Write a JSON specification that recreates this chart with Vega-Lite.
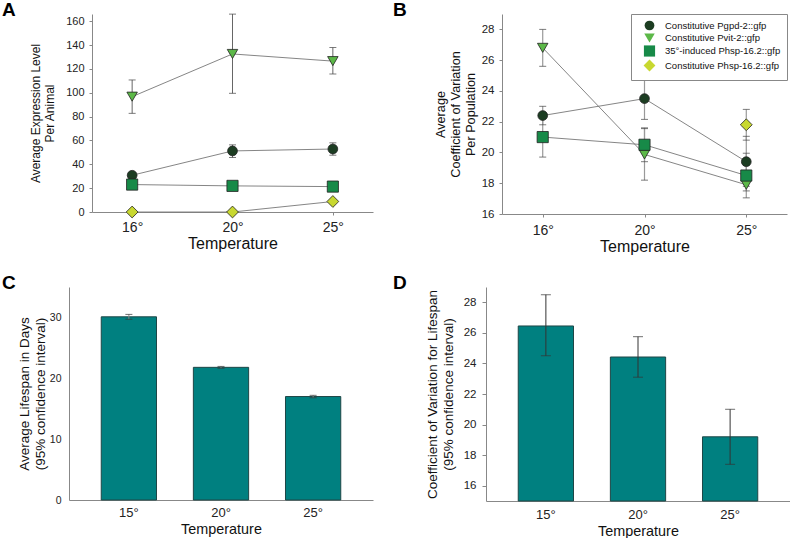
{
  "$schema": "https://vega.github.io/schema/vega-lite/v6.json",
  "padding": {"left": 2, "top": 0, "right": 0, "bottom": 0},
  "background": "white",
  "config": {
    "view": {"stroke": null},
    "font": "Liberation Sans",
    "axis": {"grid": false, "domainColor": "#888", "tickColor": "#888", "labelColor": "#222", "titleColor": "#111", "titleFontWeight": "normal", "labelFont": "Liberation Sans", "titleFont": "Liberation Sans", "labelOverlap": false},
    "title": {"anchor": "start", "frame": "group", "fontSize": 19, "fontWeight": "bold", "font": "Liberation Sans", "color": "#000", "baseline": "alphabetic", "offset": 0}
  },
  "datasets": {
    "a": [
      {"s": "Constitutive Pgpd-2::gfp", "t": "16°", "v": 30.8, "lo": 29.0, "hi": 32.6},
      {"s": "Constitutive Pgpd-2::gfp", "t": "20°", "v": 51.2, "lo": 45.7, "hi": 56.3},
      {"s": "Constitutive Pgpd-2::gfp", "t": "25°", "v": 52.8, "lo": 47.6, "hi": 58.0},
      {"s": "Constitutive Pvit-2::gfp", "t": "16°", "v": 96.7, "lo": 82.7, "hi": 110.7},
      {"s": "Constitutive Pvit-2::gfp", "t": "20°", "v": 132.5, "lo": 99.5, "hi": 165.9},
      {"s": "Constitutive Pvit-2::gfp", "t": "25°", "v": 126.5, "lo": 115.7, "hi": 137.9},
      {"s": "35°-induced Phsp-16.2::gfp", "t": "16°", "v": 23.0, "lo": 22.0, "hi": 24.0},
      {"s": "35°-induced Phsp-16.2::gfp", "t": "20°", "v": 21.9, "lo": 21.0, "hi": 22.8},
      {"s": "35°-induced Phsp-16.2::gfp", "t": "25°", "v": 21.3, "lo": 20.4, "hi": 22.2},
      {"s": "Constitutive Phsp-16.2::gfp", "t": "16°", "v": 0.0, "lo": 0.0, "hi": 0.3},
      {"s": "Constitutive Phsp-16.2::gfp", "t": "20°", "v": 0.0, "lo": 0.0, "hi": 0.3},
      {"s": "Constitutive Phsp-16.2::gfp", "t": "25°", "v": 8.8, "lo": 8.2, "hi": 9.4}
    ],
    "b": [
      {"s": "Constitutive Pgpd-2::gfp", "t": "16°", "v": 22.4, "lo": 21.8, "hi": 23.0},
      {"s": "Constitutive Pgpd-2::gfp", "t": "20°", "v": 23.5, "lo": 22.15, "hi": 24.9},
      {"s": "Constitutive Pgpd-2::gfp", "t": "25°", "v": 19.4, "lo": 17.8, "hi": 21.05},
      {"s": "Constitutive Pvit-2::gfp", "t": "16°", "v": 26.8, "lo": 25.6, "hi": 28.0},
      {"s": "Constitutive Pvit-2::gfp", "t": "20°", "v": 19.87, "lo": 18.2, "hi": 21.55},
      {"s": "Constitutive Pvit-2::gfp", "t": "25°", "v": 17.9, "lo": 17.05, "hi": 18.75},
      {"s": "35°-induced Phsp-16.2::gfp", "t": "16°", "v": 21.0, "lo": 19.7, "hi": 22.3},
      {"s": "35°-induced Phsp-16.2::gfp", "t": "20°", "v": 20.5, "lo": 19.4, "hi": 21.6},
      {"s": "35°-induced Phsp-16.2::gfp", "t": "25°", "v": 18.5, "lo": 17.5, "hi": 19.95},
      {"s": "Constitutive Phsp-16.2::gfp", "t": "25°", "v": 21.8, "lo": 20.8, "hi": 22.8}
    ],
    "c": [
      {"t": "15°", "v": 30.1, "lo": 29.7, "hi": 30.5},
      {"t": "20°", "v": 21.8, "lo": 21.65, "hi": 21.95},
      {"t": "25°", "v": 17.0, "lo": 16.8, "hi": 17.2}
    ],
    "d": [
      {"t": "15°", "v": 26.45, "lo": 24.5, "hi": 28.5},
      {"t": "20°", "v": 24.42, "lo": 23.1, "hi": 25.75},
      {"t": "25°", "v": 19.2, "lo": 17.4, "hi": 21.0}
    ]
  },
  "columns": 2,
  "bounds": "full",
  "spacing": {"row": 20, "column": 20},
  "resolve": {"scale": {"fill": "independent", "shape": "independent", "size": "independent"}, "legend": {"fill": "independent", "shape": "independent", "size": "independent"}},
  "concat": [
    {
      "width": 304, "height": 198,
      "title": {"text": "A", "dx": -67, "dy": 10},
      "data": {"name": "a"},
      "resolve": {"axis": {"y": "independent"}},
      "encoding": {
        "x": {"field": "t", "type": "ordinal", "sort": ["16°", "20°", "25°"], "scale": {"type": "point", "padding": 0.4, "range": [23, 304]},
          "axis": {"title": "Temperature", "labelAngle": 0, "labelFontSize": 14, "titleFontSize": 16, "tickSize": 3, "labelPadding": 5, "titlePadding": 1}}
      },
      "layer": [
        {"mark": {"type": "rule", "color": "#666", "strokeWidth": 1},
         "encoding": {"y": {"field": "lo", "type": "quantitative", "scale": {"domain": [0, 166], "nice": false},
           "axis": {"title": ["Average Expression Level", "Per Animal"], "offset": -23, "values": [0, 20, 40, 60, 80, 100, 120, 140, 160], "labelFontSize": 11, "titleFontSize": 12, "tickSize": 3, "labelPadding": 5, "titlePadding": 9}},
           "y2": {"field": "hi"}, "detail": {"field": "s"}}},
        {"mark": {"type": "tick", "color": "#444", "size": 7, "thickness": 1}, "encoding": {"y": {"field": "lo", "type": "quantitative", "axis": null}}},
        {"mark": {"type": "tick", "color": "#444", "size": 7, "thickness": 1}, "encoding": {"y": {"field": "hi", "type": "quantitative", "axis": null}}},
        {"mark": {"type": "line", "color": "#777", "strokeWidth": 0.9}, "encoding": {"y": {"field": "v", "type": "quantitative", "axis": null}, "detail": {"field": "s"}}},
        {"mark": {"type": "point", "filled": true, "opacity": 1, "stroke": "#222", "strokeWidth": 0.8},
         "encoding": {
           "y": {"field": "v", "type": "quantitative", "axis": null},
           "shape": {"field": "s", "type": "nominal", "scale": {"domain": ["Constitutive Pgpd-2::gfp", "Constitutive Pvit-2::gfp", "35°-induced Phsp-16.2::gfp", "Constitutive Phsp-16.2::gfp"], "range": ["circle", "triangle-down", "square", "diamond"]}, "legend": null},
           "fill": {"field": "s", "type": "nominal", "scale": {"domain": ["Constitutive Pgpd-2::gfp", "Constitutive Pvit-2::gfp", "35°-induced Phsp-16.2::gfp", "Constitutive Phsp-16.2::gfp"], "range": ["#1c3d22", "#5cb848", "#178a48", "#c8d830"]}, "legend": null},
           "size": {"field": "s", "type": "nominal", "scale": {"domain": ["Constitutive Pgpd-2::gfp", "Constitutive Pvit-2::gfp", "35°-induced Phsp-16.2::gfp", "Constitutive Phsp-16.2::gfp"], "range": [95, 140, 72, 100]}, "legend": null}
         }}
      ]
    },
    {
      "width": 301, "height": 200,
      "title": {"text": "B", "dx": -93, "dy": 10},
      "data": {"name": "b"},
      "resolve": {"axis": {"y": "independent"}},
      "encoding": {
        "x": {"field": "t", "type": "ordinal", "sort": ["16°", "20°", "25°"], "scale": {"type": "point", "padding": 0.4, "domain": ["16°", "20°", "25°"], "range": [16, 301]},
          "axis": {"title": "Temperature", "labelAngle": 0, "labelFontSize": 14, "titleFontSize": 16, "tickSize": 3, "labelPadding": 6, "titlePadding": 1}}
      },
      "layer": [
        {"mark": {"type": "rule", "color": "#999", "strokeWidth": 1.2},
         "encoding": {"y": {"field": "lo", "type": "quantitative", "scale": {"domain": [16, 29], "nice": false, "zero": false},
           "axis": {"title": ["Average", "Coefficient of Variation", "Per Population"], "offset": -16, "values": [16, 18, 20, 22, 24, 26, 28], "labelFontSize": 11.5, "titleFontSize": 12.7, "tickSize": 3, "labelPadding": 5, "titlePadding": 4}},
           "y2": {"field": "hi"}, "detail": {"field": "s"}}},
        {"mark": {"type": "tick", "color": "#444", "size": 7, "thickness": 1}, "encoding": {"y": {"field": "lo", "type": "quantitative", "axis": null}}},
        {"mark": {"type": "tick", "color": "#444", "size": 7, "thickness": 1}, "encoding": {"y": {"field": "hi", "type": "quantitative", "axis": null}}},
        {"mark": {"type": "line", "color": "#777", "strokeWidth": 0.9}, "encoding": {"y": {"field": "v", "type": "quantitative", "axis": null}, "detail": {"field": "s"}}},
        {"mark": {"type": "point", "filled": true, "opacity": 1, "stroke": "#222", "strokeWidth": 0.8},
         "encoding": {
           "y": {"field": "v", "type": "quantitative", "axis": null},
           "shape": {"field": "s", "type": "nominal", "scale": {"domain": ["Constitutive Pgpd-2::gfp", "Constitutive Pvit-2::gfp", "35°-induced Phsp-16.2::gfp", "Constitutive Phsp-16.2::gfp"], "range": ["circle", "triangle-down", "square", "diamond"]},
             "legend": {"title": null, "orient": "top-right", "offset": 0, "padding": 6, "strokeColor": "#888", "fillColor": "white", "labelFont": "Liberation Sans", "labelFontSize": 9.5, "labelColor": "#111", "symbolOffset": 6, "labelOffset": 9, "rowPadding": -2, "symbolStrokeColor": "#333", "symbolStrokeWidth": 0.8}},
           "fill": {"field": "s", "type": "nominal", "scale": {"domain": ["Constitutive Pgpd-2::gfp", "Constitutive Pvit-2::gfp", "35°-induced Phsp-16.2::gfp", "Constitutive Phsp-16.2::gfp"], "range": ["#1c3d22", "#5cb848", "#178a48", "#c8d830"]},
             "legend": {"title": null, "orient": "top-right", "offset": 0, "padding": 6, "strokeColor": "#888", "fillColor": "white", "labelFont": "Liberation Sans", "labelFontSize": 9.5, "labelColor": "#111", "symbolOffset": 6, "labelOffset": 9, "rowPadding": -2, "symbolStrokeColor": "#333", "symbolStrokeWidth": 0.8}},
           "size": {"field": "s", "type": "nominal", "scale": {"domain": ["Constitutive Pgpd-2::gfp", "Constitutive Pvit-2::gfp", "35°-induced Phsp-16.2::gfp", "Constitutive Phsp-16.2::gfp"], "range": [95, 140, 72, 100]},
             "legend": {"title": null, "orient": "top-right", "offset": 0, "padding": 6, "strokeColor": "#888", "fillColor": "white", "labelFont": "Liberation Sans", "labelFontSize": 9.5, "labelColor": "#111", "symbolOffset": 6, "labelOffset": 9, "rowPadding": -2, "symbolStrokeColor": "#333", "symbolStrokeWidth": 0.8}}
         }}
      ]
    },
    {
      "width": 304, "height": 213,
      "title": {"text": "C", "dx": -67, "dy": 10},
      "data": {"name": "c"},
      "resolve": {"axis": {"y": "independent"}},
      "encoding": {
        "x": {"field": "t", "type": "ordinal", "sort": ["15°", "20°", "25°"], "scale": {"type": "band", "paddingInner": 0.4, "paddingOuter": 0.35},
          "axis": {"title": "Temperature", "labelAngle": 0, "labelFontSize": 13, "titleFontSize": 14.4, "ticks": false, "labelPadding": 6, "titlePadding": 3}}
      },
      "layer": [
        {"mark": {"type": "bar", "fill": "#008080", "stroke": "#1e4646", "strokeWidth": 1},
         "encoding": {"y": {"field": "v", "type": "quantitative", "scale": {"domain": [0, 35], "nice": false},
           "axis": {"title": ["Average Lifespan in Days", "(95% confidence interval)"], "values": [0, 10, 20, 30], "labelFontSize": 10.5, "titleFontSize": 13.5, "ticks": false, "labelPadding": 8, "titlePadding": 2}}}},
        {"mark": {"type": "rule", "color": "#888", "strokeWidth": 1}, "encoding": {"y": {"field": "lo", "type": "quantitative", "axis": null}, "y2": {"field": "hi"}}},
        {"mark": {"type": "tick", "color": "#333", "size": 7, "thickness": 1}, "encoding": {"y": {"field": "lo", "type": "quantitative", "axis": null}}},
        {"mark": {"type": "tick", "color": "#333", "size": 7, "thickness": 1}, "encoding": {"y": {"field": "hi", "type": "quantitative", "axis": null}}}
      ]
    },
    {
      "width": 304, "height": 214,
      "title": {"text": "D", "dx": -93, "dy": 10},
      "data": {"name": "d"},
      "resolve": {"axis": {"y": "independent"}},
      "encoding": {
        "x": {"field": "t", "type": "ordinal", "sort": ["15°", "20°", "25°"], "scale": {"type": "band", "paddingInner": 0.4, "paddingOuter": 0.35},
          "axis": {"title": "Temperature", "labelAngle": 0, "labelFontSize": 13, "titleFontSize": 14.4, "ticks": false, "labelPadding": 7, "titlePadding": 3}}
      },
      "layer": [
        {"mark": {"type": "bar", "fill": "#008080", "stroke": "#1e4646", "strokeWidth": 1},
         "encoding": {"y": {"field": "v", "type": "quantitative", "scale": {"domain": [15, 29], "nice": false, "zero": false},
           "axis": {"title": ["Coefficient of Variation for Lifespan", "(95% confidence interval)"], "values": [16, 18, 20, 22, 24, 26, 28], "labelFontSize": 11.5, "titleFontSize": 13.5, "tickSize": 4, "labelPadding": 6, "titlePadding": 8}},
           "y2": {"datum": 15}}},
        {"mark": {"type": "rule", "color": "#333", "strokeWidth": 1}, "encoding": {"y": {"field": "lo", "type": "quantitative", "axis": null}, "y2": {"field": "hi"}}},
        {"mark": {"type": "tick", "color": "#333", "size": 10, "thickness": 1}, "encoding": {"y": {"field": "lo", "type": "quantitative", "axis": null}}},
        {"mark": {"type": "tick", "color": "#333", "size": 10, "thickness": 1}, "encoding": {"y": {"field": "hi", "type": "quantitative", "axis": null}}}
      ]
    }
  ]
}
